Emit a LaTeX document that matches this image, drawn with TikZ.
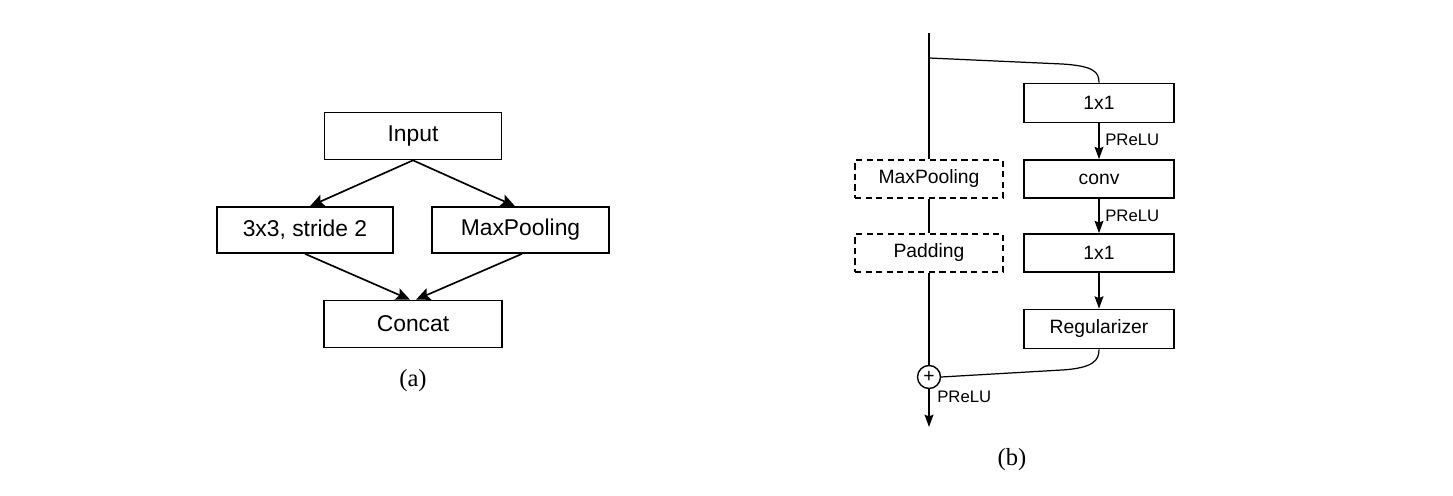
\documentclass[tikz,border=0pt]{standalone}
\usepackage{fontspec}
\setmainfont{Liberation Sans}
\newfontfamily\capfont{Liberation Serif}
\usetikzlibrary{arrows.meta}
\begin{document}
\begin{tikzpicture}[x=0.02cm,y=-0.02cm,
  boxa/.style={draw,line width=0.95pt,inner sep=0pt,minimum height=0.94cm,font=\fontsize{13}{15}\selectfont},
  boxb/.style={draw,line width=0.95pt,inner sep=0pt,minimum width=3.0cm,minimum height=0.78cm,font=\fontsize{11}{13}\selectfont},
  dboxb/.style={boxb,dash pattern=on 3.5pt off 2.5pt,minimum width=2.96cm},
  conn/.style={line width=1pt},
  arra/.style={line width=0.95pt,-{Stealth[length=8pt,width=7pt,inset=1.5pt]}},
  arrb/.style={line width=1pt,-{Stealth[length=7pt,width=5pt,inset=1pt]}},
  curve/.style={line width=0.7pt},
  lbl/.style={font=\fontsize{9.5}{11}\selectfont,anchor=west,inner sep=0pt},
  captext/.style={font=\capfont\fontsize{14}{16}\selectfont}
]
\path[use as bounding box] (0,0) rectangle (1453,496);
% (a)
\node[boxa,minimum width=3.54cm] (in) at (413,136) {Input};
\node[boxa,minimum width=3.52cm,minimum height=0.92cm] (s2) at (305,230) {3x3, stride 2};
\node[boxa,minimum width=3.54cm,minimum height=0.92cm] (mpa) at (520.5,230) {MaxPooling};
\node[boxa,minimum width=3.56cm] (cc) at (413,324) {Concat};
\node[captext] (la) at (413,381) {(a)};
\draw[arra] (in.south) -- (s2.north -| 310,0);
\draw[arra] (in.south) -- (mpa.north -| 515,0);
\draw[arra] (s2.south -| 305,0) -- (cc.north -| 410,0);
\draw[arra] (mpa.south -| 522,0) -- (cc.north -| 416,0);
% (b)
\coordinate (top) at (929,33);
\coordinate (br) at (929,58);
\coordinate (bot) at (929,427);
\node[boxb] (c1) at (1099,103) {1x1};
\node[boxb,minimum height=0.76cm] (cv) at (1099,179) {conv};
\node[boxb,minimum height=0.76cm] (c2) at (1099,253) {1x1};
\node[boxb] (rg) at (1099,329) {Regularizer};
\node[dboxb,minimum height=0.76cm] (mpb) at (929,179) {MaxPooling};
\node[dboxb,minimum height=0.76cm] (pd) at (929,253) {Padding};
\node[draw,circle,line width=0.8pt,minimum size=0.46cm,inner sep=0pt,font=\fontsize{11}{12}\selectfont] (pl) at (929,377) {+};
\node[captext] (lb) at (1012,460) {(b)};
\draw[conn] (top) -- (mpb.north);
\draw[conn] (mpb.south) -- (pd.north);
\draw[conn] (pd.south) -- (pl.north);
\draw[arrb] (pl.south) -- (bot);
\draw[curve] (br) -- (1062,64) .. controls (1094,66) and (1099,72) .. (c1.north);
\draw[curve] (rg.south) .. controls (1099,360) and (1094,368) .. (1062,370) -- (pl.east);
\draw[arrb] (c1.south) -- (cv.north);
\draw[arrb] (cv.south) -- (c2.north);
\draw[arrb] (c2.south) -- (rg.north);
\node[lbl] (p1) at (1105,140) {PReLU};
\node[lbl] (p2) at (1105,216) {PReLU};
\node[lbl] (p3) at (937,397) {PReLU};
\end{tikzpicture}
\end{document}
